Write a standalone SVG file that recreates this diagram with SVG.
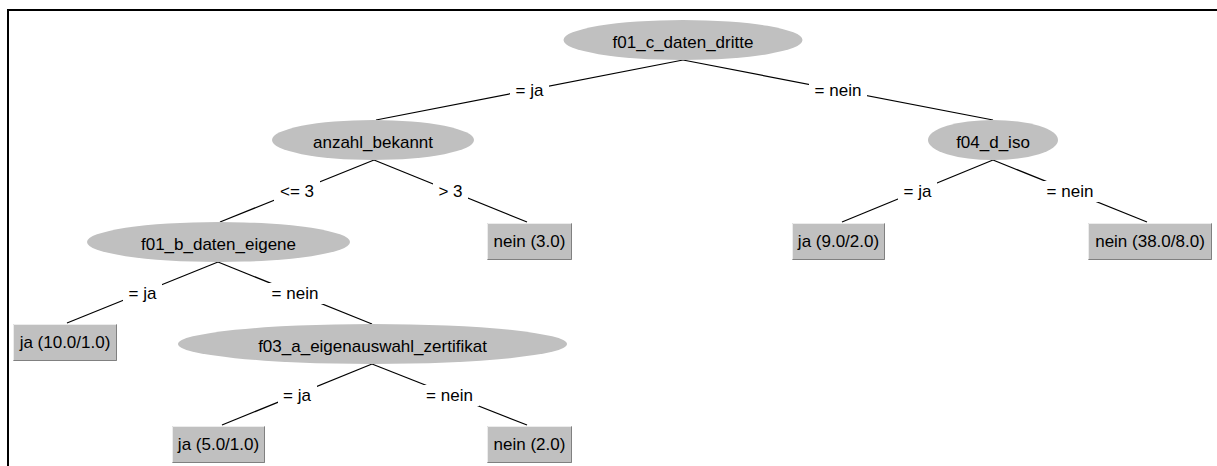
<svg xmlns="http://www.w3.org/2000/svg" width="1217" height="466" viewBox="0 0 1217 466">
<style>
text{font-family:"Liberation Sans",Arial,sans-serif;font-size:17px;fill:#000;text-anchor:middle}
.n ellipse{fill:#c0c0c0}
.l rect.b{fill:#c0c0c0}
.hi{fill:none;stroke:#ececec;stroke-width:1}
.lo{fill:none;stroke:#808080;stroke-width:1}
.e line{stroke:#000;stroke-width:1.2}
.e rect{fill:#fff}
</style>
<rect width="1217" height="466" fill="#fff"/>
<path d="M8 466 V10 H1217" fill="none" stroke="#000" stroke-width="2"/>
<g id="connectors" class="e">
<line x1="683" y1="60" x2="376" y2="120"/>
<line x1="683" y1="60" x2="993" y2="120"/>
<line x1="374" y1="160" x2="220" y2="222"/>
<line x1="374" y1="160" x2="527" y2="222"/>
<line x1="218" y1="262" x2="67" y2="323"/>
<line x1="218" y1="262" x2="372" y2="324"/>
<line x1="372" y1="364" x2="222" y2="425"/>
<line x1="372" y1="364" x2="527" y2="425"/>
<line x1="993" y1="160" x2="842" y2="222"/>
<line x1="993" y1="160" x2="1147" y2="222"/>
<rect x="510" y="80" width="39" height="21"/><text x="529.5" y="96">= ja</text>
<rect x="809" y="80" width="58" height="21"/><text x="838" y="96">= nein</text>
<rect x="274" y="181" width="46" height="21"/><text x="297" y="197">&lt;= 3</text>
<rect x="433" y="181" width="35" height="21"/><text x="450.5" y="197">&gt; 3</text>
<rect x="123" y="283" width="39" height="21"/><text x="142.5" y="299">= ja</text>
<rect x="266" y="283" width="58" height="21"/><text x="295" y="299">= nein</text>
<rect x="278" y="385" width="39" height="21"/><text x="297" y="401">= ja</text>
<rect x="420" y="385" width="59" height="21"/><text x="449.5" y="401">= nein</text>
<rect x="898" y="181" width="39" height="21"/><text x="917.5" y="197">= ja</text>
<rect x="1041" y="181" width="58" height="21"/><text x="1070" y="197">= nein</text>
</g>
<g id="n_f01_c_daten_dritte" class="n"><ellipse cx="683" cy="40" rx="119.5" ry="20"/><text x="683" y="48">f01_c_daten_dritte</text></g>
<g id="n_anzahl_bekannt" class="n"><ellipse cx="373" cy="140" rx="101" ry="20"/><text x="373" y="148">anzahl_bekannt</text></g>
<g id="n_f04_d_iso" class="n"><ellipse cx="993" cy="140" rx="65" ry="20"/><text x="993" y="148">f04_d_iso</text></g>
<g id="n_f01_b_daten_eigene" class="n"><ellipse cx="218.5" cy="242" rx="131.5" ry="20"/><text x="218.5" y="250">f01_b_daten_eigene</text></g>
<g id="n_f03_a_eigenauswahl_zertifikat" class="n"><ellipse cx="372.5" cy="344" rx="194.5" ry="20"/><text x="372.5" y="352">f03_a_eigenauswahl_zertifikat</text></g>
<g id="l_nein_3" class="l"><rect class="b" x="487" y="223" width="85" height="37"/><path class="hi" d="M487.5 259.5 V223.5 H571.5"/><path class="lo" d="M487.5 259.5 H571.5 V223.5"/><text x="529.5" y="247">nein (3.0)</text></g>
<g id="l_ja_10" class="l"><rect class="b" x="13" y="324" width="104" height="37"/><path class="hi" d="M13.5 360.5 V324.5 H116.5"/><path class="lo" d="M13.5 360.5 H116.5 V324.5"/><text x="65" y="348">ja (10.0/1.0)</text></g>
<g id="l_ja_5" class="l"><rect class="b" x="172" y="426" width="93" height="37"/><path class="hi" d="M172.5 462.5 V426.5 H264.5"/><path class="lo" d="M172.5 462.5 H264.5 V426.5"/><text x="218.5" y="450">ja (5.0/1.0)</text></g>
<g id="l_nein_2" class="l"><rect class="b" x="487" y="426" width="85" height="37"/><path class="hi" d="M487.5 462.5 V426.5 H571.5"/><path class="lo" d="M487.5 462.5 H571.5 V426.5"/><text x="529.5" y="450">nein (2.0)</text></g>
<g id="l_ja_9" class="l"><rect class="b" x="792" y="223" width="93" height="37"/><path class="hi" d="M792.5 259.5 V223.5 H884.5"/><path class="lo" d="M792.5 259.5 H884.5 V223.5"/><text x="838.5" y="247">ja (9.0/2.0)</text></g>
<g id="l_nein_38" class="l"><rect class="b" x="1088" y="223" width="124" height="37"/><path class="hi" d="M1088.5 259.5 V223.5 H1211.5"/><path class="lo" d="M1088.5 259.5 H1211.5 V223.5"/><text x="1150" y="247">nein (38.0/8.0)</text></g>
</svg>
